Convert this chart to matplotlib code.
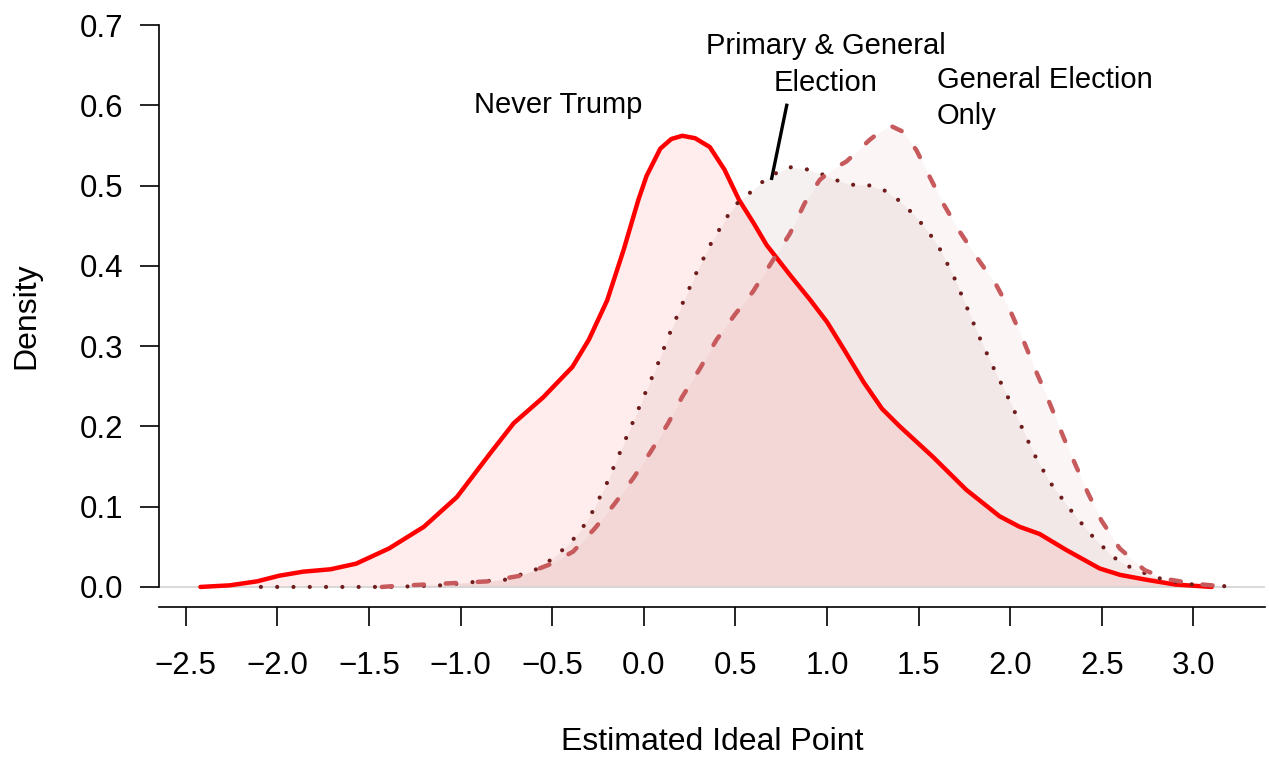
import numpy as np
import matplotlib
matplotlib.use('Agg')
import matplotlib.pyplot as plt

plt.rcParams['font.family'] = ['Liberation Sans', 'DejaVu Sans']

# Never Trump (solid red)
nt_x = [-2.42, -2.26, -2.11, -1.99, -1.86, -1.71, -1.57, -1.39, -1.20, -1.02, -0.84, -0.71,
        -0.55, -0.39, -0.30, -0.20, -0.11, -0.03, 0.015, 0.09, 0.15, 0.21, 0.28, 0.36,
        0.44, 0.52, 0.60, 0.67, 0.80, 0.91, 1.00, 1.10, 1.20, 1.30, 1.397, 1.578, 1.76,
        1.942, 2.05, 2.16, 2.306, 2.488, 2.60, 2.742, 2.90, 3.10]
nt_y = [0.0, 0.002, 0.007, 0.014, 0.019, 0.022, 0.029, 0.048, 0.075, 0.112, 0.166, 0.204,
        0.236, 0.274, 0.308, 0.357, 0.420, 0.482, 0.512, 0.546, 0.558, 0.562, 0.559, 0.548,
        0.520, 0.482, 0.453, 0.426, 0.388, 0.357, 0.330, 0.293, 0.255, 0.222, 0.200, 0.162,
        0.121, 0.088, 0.075, 0.066, 0.046, 0.023, 0.015, 0.009, 0.003, 0.0]

# Primary & General Election (dotted)
pg_x = [-2.09, -1.37, -1.11, -0.936, -0.758, -0.595, -0.518, -0.449, -0.386, -0.331, -0.284,
        -0.204, -0.133, -0.064, 0.005, 0.075, 0.140, 0.209, 0.282, 0.362, 0.451, 0.505,
        0.569, 0.638, 0.70, 0.791, 0.878, 0.962, 1.046, 1.131, 1.218, 1.306, 1.379, 1.442,
        1.504, 1.560, 1.609, 1.691, 1.760, 1.828, 1.902, 1.980, 2.055, 2.129, 2.215, 2.322,
        2.433, 2.557, 2.633, 2.711, 2.85, 3.0, 3.25]
pg_y = [0.0, 0.0, 0.002, 0.006, 0.009, 0.021, 0.032, 0.045, 0.059, 0.075, 0.092,
        0.128, 0.166, 0.203, 0.240, 0.277, 0.315, 0.352, 0.389, 0.426, 0.460, 0.477,
        0.489, 0.503, 0.513, 0.523, 0.521, 0.515, 0.507, 0.501, 0.501, 0.495, 0.484, 0.471,
        0.456, 0.440, 0.424, 0.387, 0.350, 0.313, 0.276, 0.240, 0.203, 0.166, 0.131, 0.098,
        0.067, 0.038, 0.027, 0.019, 0.008, 0.003, 0.0]

# General Election Only (dashed)
ge_x = [-1.43, -1.37, -1.02, -0.849, -0.674, -0.513, -0.386, -0.267, -0.158, -0.053, 0.042,
        0.133, 0.210, 0.306, 0.397, 0.496, 0.596, 0.705, 0.797, 0.878, 0.960, 1.03, 1.106,
        1.233, 1.30, 1.351, 1.415, 1.488, 1.560, 1.633, 1.720, 1.828, 1.924, 2.006, 2.079,
        2.142, 2.206, 2.297, 2.360, 2.424, 2.497, 2.597, 2.733, 2.85, 3.0, 3.2]
ge_y = [0.0, 0.001, 0.005, 0.007, 0.014, 0.028, 0.044, 0.073, 0.104, 0.137, 0.170,
        0.204, 0.237, 0.272, 0.308, 0.339, 0.368, 0.407, 0.440, 0.478, 0.507, 0.520, 0.530,
        0.557, 0.569, 0.574, 0.567, 0.544, 0.511, 0.478, 0.444, 0.407, 0.376, 0.341, 0.303,
        0.268, 0.234, 0.183, 0.150, 0.117, 0.083, 0.048, 0.021, 0.010, 0.004, 0.0]

xticks = [-2.5, -2.0, -1.5, -1.0, -0.5, 0.0, 0.5, 1.0, 1.5, 2.0, 2.5, 3.0]
yticks = [0.0, 0.1, 0.2, 0.3, 0.4, 0.5, 0.6, 0.7]

c_nt = 'red'
c_pg = '#6e1c1c'
c_ge = '#c75a5c'

fig = plt.figure(figsize=(12.69, 7.6), dpi=100)
ax = fig.add_axes([0.1253, 0.2013, 0.8715, 0.7658])

ax.fill_between(nt_x, 0, nt_y, color=c_nt, alpha=0.075, lw=0)
ax.fill_between(pg_x, 0, pg_y, color=c_pg, alpha=0.06, lw=0)
ax.fill_between(ge_x, 0, ge_y, color=c_ge, alpha=0.06, lw=0)

ax.axhline(0, color='#d3d3d3', lw=1.2, zorder=1)

ax.plot(nt_x, nt_y, color=c_nt, lw=3.2, solid_capstyle='round',
        solid_joinstyle='round', zorder=3)
ax.plot(pg_x, pg_y, color=c_pg, lw=3.0, linestyle=(0, (0.01, 3.9)),
        dash_capstyle='round', zorder=3)
ax.plot(ge_x, ge_y, color=c_ge, lw=3.2, linestyle=(0, (2.3, 4.9)),
        dash_capstyle='round', zorder=3)

ax.set_xlim(-2.646, 3.39)
ax.set_ylim(-0.025, 0.7)

for s in ['top', 'right']:
    ax.spines[s].set_visible(False)
ax.spines['left'].set_bounds(0, 0.7)
ax.spines['left'].set_linewidth(1.2)
ax.spines['bottom'].set_linewidth(1.2)

fmt = lambda v: ('%.1f' % v).replace('-', '\u2212')
ax.set_xticks(xticks)
ax.set_xticklabels([fmt(v) for v in xticks])
ax.set_yticks(yticks)
ax.set_yticklabels([fmt(v) for v in yticks])
ax.tick_params(axis='both', length=14, width=1.2, labelsize=22.5, colors='black')
ax.tick_params(axis='x', pad=18)
ax.tick_params(axis='y', pad=12)

ax.set_xlabel('Estimated Ideal Point', fontsize=23, labelpad=33)
ax.set_ylabel('Density', fontsize=23, labelpad=27)

ax.text(-0.47, 0.600, 'Never Trump', fontsize=21, ha='center', va='center')
ax.text(0.993, 0.651, 'Primary & General\nElection', fontsize=21, ha='center',
        va='center', linespacing=1.38)
ax.text(1.598, 0.609, 'General Election\nOnly', fontsize=21, ha='left',
        va='center', linespacing=1.38)
ax.plot([0.78, 0.698], [0.600, 0.509], color='black', lw=2.4)

plt.savefig('out.png', dpi=100)
